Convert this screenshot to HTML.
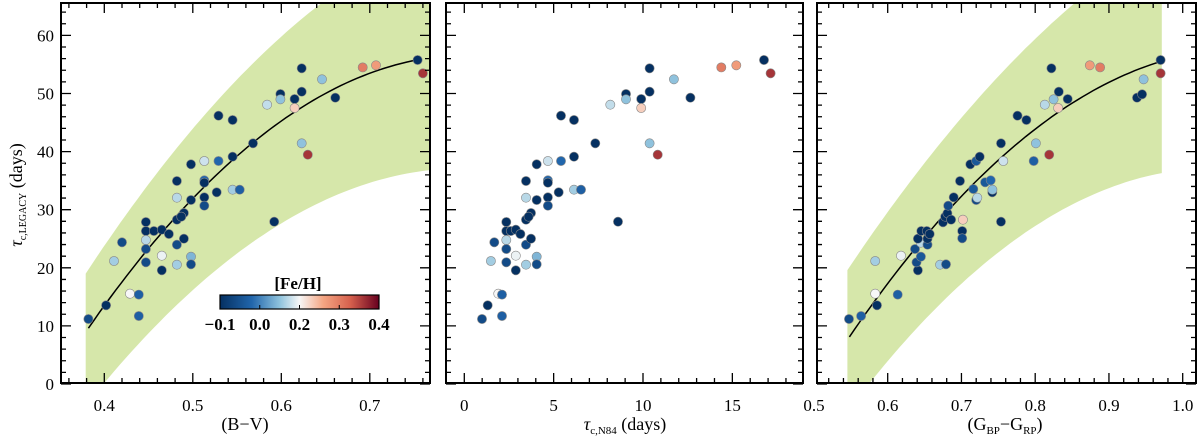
<!DOCTYPE html>
<html><head><meta charset="utf-8">
<style>
html,body{margin:0;padding:0;background:#fff;}
svg{display:block;font-family:"Liberation Serif",serif;}
</style></head>
<body>
<svg id="fig" width="1200" height="440" viewBox="0 0 1200 440" xmlns="http://www.w3.org/2000/svg">
<defs>
<clipPath id="c1"><rect x="61" y="3" width="369" height="380"/></clipPath>
<clipPath id="c3"><rect x="817" y="3" width="379" height="380"/></clipPath>
<linearGradient id="cbg" x1="0" x2="1" y1="0" y2="0">
<stop offset="0" stop-color="#053061"/><stop offset="0.2" stop-color="#2166ac"/><stop offset="0.38" stop-color="#92c5de"/><stop offset="0.5" stop-color="#f7f7f7"/><stop offset="0.65" stop-color="#f4a582"/><stop offset="0.82" stop-color="#d6604d"/><stop offset="1" stop-color="#67001f"/>
</linearGradient>
</defs>
<g id="root"></g>
</svg>
<script>
// ---- data ----
const p1X = [0.382,0.402,0.411,0.420,0.429,0.439,0.439,0.447,0.447,0.447,0.447,0.447,0.456,0.465,0.465,0.465,0.473,0.482,0.482,0.482,0.482,0.482,0.490,0.490,0.487,0.498,0.498,0.498,0.498,0.513,0.513,0.513,0.513,0.513,0.527,0.529,0.529,0.545,0.545,0.545,0.553,0.568,0.584,0.592,0.599,0.599,0.615,0.615,0.623,0.623,0.623,0.630,0.646,0.661,0.692,0.707,0.754,0.760];
const p2X = [0.99,1.31,1.49,1.68,1.90,2.11,2.11,2.35,2.35,2.35,2.35,2.35,2.60,2.88,2.88,2.88,3.14,3.45,3.45,3.45,3.45,3.45,3.73,3.73,3.60,4.05,4.05,4.05,4.05,4.68,4.68,4.68,4.68,4.68,5.28,5.41,5.41,6.14,6.14,6.14,6.53,7.33,8.17,8.60,9.05,9.05,9.90,9.90,10.37,10.37,10.37,10.82,11.73,12.65,14.38,15.22,16.77,17.14];
const tauY = [11.19,13.54,21.17,24.39,15.55,15.38,11.70,27.88,26.33,24.78,23.24,20.94,26.33,26.56,22.09,19.57,25.82,34.94,32.07,28.28,23.98,20.54,29.43,25.01,28.80,37.81,31.67,21.91,20.60,38.38,35.06,34.65,32.13,30.69,32.99,46.18,38.38,45.44,39.12,33.44,33.44,41.43,48.07,27.93,49.91,49.00,49.05,47.50,54.33,50.31,41.43,39.47,52.44,49.28,54.50,54.85,55.77,53.48];
const feh = [-0.06,-0.1,0.12,-0.06,0.2,-0.03,-0.03,-0.1,-0.1,0.14,-0.06,-0.06,-0.1,-0.1,0.19,-0.1,-0.1,-0.1,0.14,-0.1,-0.06,0.12,-0.1,-0.1,-0.1,-0.1,-0.1,0.08,-0.06,0.16,-0.02,-0.1,-0.1,-0.06,-0.1,-0.1,-0.02,-0.1,-0.1,0.12,-0.03,-0.1,0.15,-0.1,-0.1,0.1,-0.1,0.23,-0.1,-0.1,0.1,0.36,0.1,-0.1,0.3,0.27,-0.1,0.36];
const p3X = [0.5475,0.564,0.583,0.5855,0.583,0.6136,0.618,0.641,0.639,0.637,0.645,0.645,0.654,0.641,0.654,0.6456,0.653,0.657,0.675,0.678,0.681,0.686,0.702,0.701,0.701,0.671,0.679,0.682,0.6895,0.698,0.712,0.716,0.720,0.7215,0.720,0.7247,0.732,0.7397,0.7418,0.742,0.7536,0.7568,0.7536,0.776,0.788,0.798,0.801,0.819,0.813,0.825,0.832,0.844,0.831,0.822,0.874,0.888,0.938,0.945,0.947,0.970,0.970];
const p3Y = [11.19,11.70,15.55,13.54,21.17,15.38,22.09,19.57,20.94,23.24,21.91,24.32,23.98,25.01,25.01,26.33,26.33,25.82,27.83,28.80,29.38,28.28,28.28,26.33,25.07,20.54,20.60,30.69,32.13,34.94,37.81,33.56,31.67,32.07,38.38,39.12,34.71,35.06,32.99,33.44,41.43,38.38,27.93,46.18,45.44,38.38,41.43,39.47,48.07,49.00,50.31,49.05,47.50,54.33,54.85,54.50,49.28,49.86,52.44,55.77,53.48];
const p3Feh = [-0.06,-0.03,0.2,-0.1,0.12,-0.03,0.19,-0.1,-0.06,-0.06,-0.04,0.14,-0.06,-0.1,-0.1,-0.1,-0.1,-0.1,-0.1,-0.1,-0.1,-0.1,0.23,-0.1,-0.06,0.12,-0.06,-0.06,-0.1,-0.1,-0.1,-0.04,-0.06,0.14,-0.04,-0.1,-0.04,-0.02,-0.1,0.1,-0.1,0.16,-0.1,-0.1,-0.1,-0.03,0.1,0.36,0.14,0.1,-0.1,-0.1,0.23,-0.1,0.27,0.3,-0.1,-0.1,0.1,-0.1,0.36];
// model curves (knots in data space: fit and envelope)
const fit1X = [0.382,0.52,0.754], fit1Y = [9.6,35,55.8];
const up1X = [0.379,0.502,0.644], up1Y = [19,44.3,65.4];
const lo1X = [0.399,0.577,0.767], lo1Y = [0,25.4,36.8];
const band1Range = [0.379,0.768];
const fit3X = [0.548,0.755,0.97], fit3Y = [8.1,39.1,55.5];
const up3X = [0.5454,0.682,0.852], up3Y = [19.6,43.1,65.4];
const lo3X = [0.5745,0.7725,0.9716], lo3Y = [0,24.8,36.3];
const band3Range = [0.5454,0.9716];
const yTicks = [0,10,20,30,40,50,60];
const x1Ticks = [0.4,0.5,0.6,0.7];
const x2Ticks = [0,5,10,15];
const x3Ticks = [0.5,0.6,0.7,0.8,0.9,1.0];
const cbTicks = [-0.1,0.0,0.2,0.3,0.4];
const cbLabels = ["\u22120.1","0.0","0.2","0.3","0.4"];

// ---- scales ----
const NS="http://www.w3.org/2000/svg";
const root=document.getElementById('root');
const Y=v=>384-5.81*v;
const X1=v=>104.3+(v-0.4)*885;
const X2=v=>464.3+17.87*v;
const X3=v=>887.7+(v-0.6)*737.5;
function mk(tag,attrs,parent){const e=document.createElementNS(NS,tag);for(const k in attrs)e.setAttribute(k,attrs[k]);(parent||root).appendChild(e);return e;}
function lag(xs,ys,x){let s=0;for(let i=0;i<3;i++){let t=ys[i];for(let j=0;j<3;j++)if(j!==i)t*=(x-xs[j])/(xs[i]-xs[j]);s+=t;}return s;}
const stops=[[0,[5,48,97]],[0.2,[33,102,172]],[0.38,[146,197,222]],[0.5,[247,247,247]],[0.65,[244,165,130]],[0.82,[214,96,77]],[1,[103,0,31]]];
function fehPos(v){for(let i=0;i<cbTicks.length-1;i++){if(v<=cbTicks[i+1]){const t=(v-cbTicks[i])/(cbTicks[i+1]-cbTicks[i]);return Math.max(0,(i+t)/(cbTicks.length-1));}}return 1;}
function cmap(v){const p=fehPos(v);for(let i=0;i<stops.length-1;i++){if(p<=stops[i+1][0]){const t=(p-stops[i][0])/(stops[i+1][0]-stops[i][0]);const c=stops[i][1].map((a,k)=>Math.round(a+(stops[i+1][1][k]-a)*t));return `rgb(${c})`;}}return 'rgb(103,0,31)';}

function band(X,upX,upY,loX,loY,rng,clip,name){
  const g=mk('g',{'clip-path':`url(#${clip})`});
  let d='';const n=60;
  for(let i=0;i<=n;i++){const x=rng[0]+(rng[1]-rng[0])*i/n;d+=(i?'L':'M')+X(x).toFixed(1)+','+Y(lag(upX,upY,x)).toFixed(1);}
  for(let i=n;i>=0;i--){const x=rng[0]+(rng[1]-rng[0])*i/n;d+='L'+X(x).toFixed(1)+','+Y(lag(loX,loY,x)).toFixed(1);}
  const p=mk('path',{d:d+'Z',fill:'#d6e7aa'},g);
  
  
}
function fitLine(X,fx,fy,name){
  let d='';const n=60;
  for(let i=0;i<=n;i++){const x=fx[0]+(fx[2]-fx[0])*i/n;d+=(i?'L':'M')+X(x).toFixed(1)+','+Y(lag(fx,fy,x)).toFixed(1);}
  const p=mk('path',{d,fill:'none',stroke:'#000','stroke-width':1.5});
  
  
}
function points(X,xs,ys,cs,name){
  const g=mk('g',{});
  
  
  for(let i=0;i<xs.length;i++){
    const c=mk('circle',{cx:X(xs[i]).toFixed(1),cy:Y(ys[i]).toFixed(1),r:4.6,fill:cmap(cs[i]),stroke:'#888','stroke-width':0.6},g);
    
    
  }
}
function frame(x0,x1,X,xt,xmin,xmax,xminor,ylabels,name){
  const g=mk('g',{});
  
  
  mk('rect',{x:x0,y:3,width:x1-x0,height:380,fill:'none',stroke:'#000','stroke-width':2},g);
  let d='';
  for(let v=Math.ceil(xmin/xminor)*xminor;v<=xmax+1e-9;v+=xminor){
    const major=xt.some(t=>Math.abs(t-v)<xminor/3);const L=major?10:5;const px=X(v);
    if(px<x0+1||px>x1-1)continue;
    d+=`M${px},383v${-L}M${px},3v${L}`;
  }
  for(let v=0;v<=64;v+=2){const major=v%10===0;const L=major?10:5;const py=Y(v);if(py<4)continue;d+=`M${x0},${py}h${L}M${x1},${py}h${-L}`;}
  mk('path',{d,stroke:'#000','stroke-width':1.3,fill:'none'},g);
  xt.forEach(t=>{const e=mk('text',{x:X(t),y:411,'text-anchor':'middle','font-size':17},g);e.textContent=(t%1===0&&xmax>2)?String(t):t.toFixed(1);
    
    });
  if(ylabels){yTicks.forEach(t=>{const e=mk('text',{x:x0-7,y:Y(t)+6,'text-anchor':'end','font-size':17},g);e.textContent=String(t);
    
    });}
}

// panel 1
band(X1,up1X,up1Y,lo1X,lo1Y,band1Range,'c1','envelope-band-bv');
fitLine(X1,fit1X,fit1Y,'fit-curve-bv');
points(X1,p1X,tauY,feh,'points-bv');
frame(61,430,X1,x1Ticks,0.35,0.768,0.02,true,'panel-bv');
// panel 2
points(X2,p2X,tauY,feh,'points-n84');
frame(446,803,X2,x2Ticks,-1,19,1,false,'panel-n84');
// panel 3
band(X3,up3X,up3Y,lo3X,lo3Y,band3Range,'c3','envelope-band-gaia');
fitLine(X3,fit3X,fit3Y,'fit-curve-gaia');
points(X3,p3X,p3Y,p3Feh,'points-gaia');
frame(817,1196,X3,x3Ticks,0.5,1.02,0.02,false,'panel-gaia');

// colorbar
const cb=mk('g',{});


mk('rect',{x:220,y:295,width:159,height:14,fill:'url(#cbg)',stroke:'#000','stroke-width':1.2},cb);
cbTicks.forEach((t,i)=>{const px=220+159*i/(cbTicks.length-1);
  if(i>0&&i<cbTicks.length-1)mk('line',{x1:px,x2:px,y1:309,y2:305,stroke:'#000','stroke-width':1},cb);
  const e=mk('text',{x:px,y:330,'text-anchor':'middle','font-size':17,'font-weight':'bold'},cb);e.textContent=cbLabels[i];
  
  });
const cbt=mk('text',{x:298,y:289,'text-anchor':'middle','font-size':17,'font-weight':'bold'},cb);cbt.textContent='[Fe/H]';


</script>
<svg style="position:absolute;left:0;top:0" width="1200" height="440" xmlns="http://www.w3.org/2000/svg" font-family="Liberation Serif, serif">
<text x="245" y="430" text-anchor="middle" font-size="18">(B&#8722;V)</text>
<text x="625" y="430" text-anchor="middle" font-size="18"><tspan font-style="italic">τ</tspan><tspan font-size="11" dy="4">c,N84</tspan><tspan dy="-4"> (days)</tspan></text>
<text x="1005" y="430" text-anchor="middle" font-size="18">(G<tspan font-size="11" dy="4">BP</tspan><tspan dy="-4">&#8722;G</tspan><tspan font-size="11" dy="4">RP</tspan><tspan dy="-4">)</tspan></text>
<text transform="translate(22,195) rotate(-90)" text-anchor="middle" font-size="18"><tspan font-style="italic">τ</tspan><tspan font-size="10" dy="4">c,LEGACY</tspan><tspan dy="-4"> (days)</tspan></text>
</svg>
</body></html>
